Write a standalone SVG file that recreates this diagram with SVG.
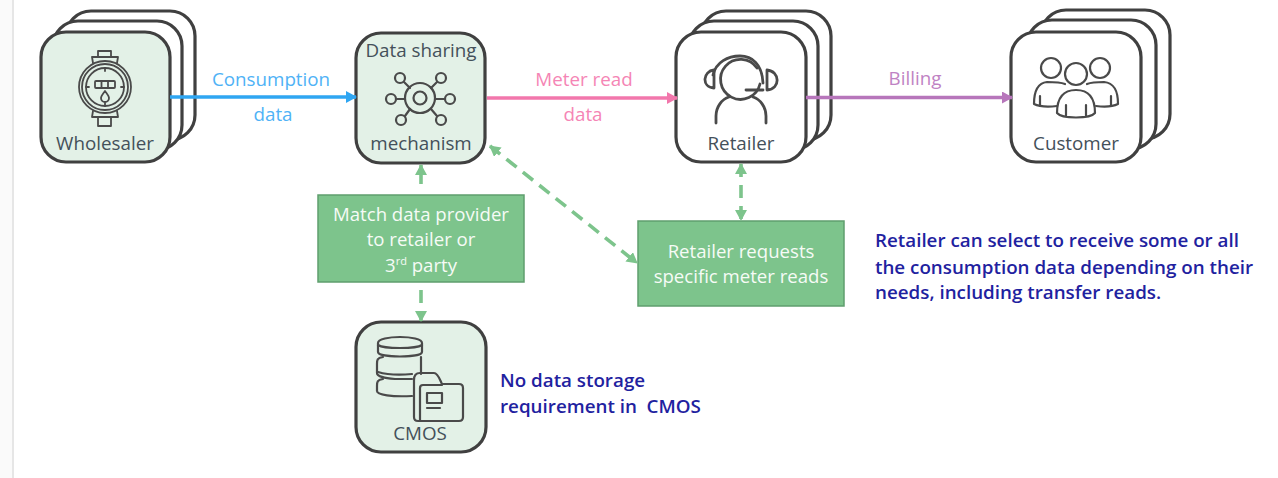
<svg xmlns="http://www.w3.org/2000/svg" width="1278" height="478" viewBox="0 0 1278 478">
<style>
text{font-family:"Open Sans","Noto Sans","Liberation Sans",sans-serif}
.card{stroke:#404040;stroke-width:3.2;fill:#fff}
.tint{fill:#e3f1e7}
.ic{fill:none;stroke:#4a4a4a;stroke-width:2.2;stroke-linecap:round;stroke-linejoin:round}
.lab{font-size:18.8px;fill:#44505a;text-anchor:middle}
.box{fill:#7dc48c;stroke:#5f9e6e;stroke-width:1.5}
.bt{font-size:18.6px;fill:#f6fbf6;text-anchor:middle}
.note{font-size:18.8px;font-weight:600;fill:#1f22a0}
.t{font-size:18.8px;text-anchor:middle}
.g{stroke:#7dc48c;stroke-width:3.6;fill:none}
.d{stroke-dasharray:13 8}
</style>
<defs>
<marker id="mb" markerUnits="userSpaceOnUse" markerWidth="12" markerHeight="12" refX="10" refY="6" orient="auto"><path d="M0 0L11 6L0 12z" fill="#2fa6f2"/></marker>
<marker id="mp" markerUnits="userSpaceOnUse" markerWidth="12" markerHeight="12" refX="10" refY="6" orient="auto"><path d="M0 0L11 6L0 12z" fill="#f277ac"/></marker>
<marker id="mv" markerUnits="userSpaceOnUse" markerWidth="12" markerHeight="12" refX="10" refY="6" orient="auto"><path d="M0 0L11 6L0 12z" fill="#b776bb"/></marker>
<marker id="mg" markerUnits="userSpaceOnUse" markerWidth="12" markerHeight="12" refX="10" refY="6" orient="auto-start-reverse"><path d="M0 0L11 6L0 12z" fill="#7dc48c"/></marker>
</defs>
<rect width="1278" height="478" fill="#fff"/>
<rect x="0" y="0" width="12" height="478" fill="#fafafa"/>
<rect x="12" y="0" width="2" height="478" fill="#e6e6e6"/>

<g id="wholesaler">
<rect class="card" x="66" y="11" width="129" height="129" rx="25"/>
<rect class="card" x="53" y="21" width="129" height="129" rx="25"/>
<rect class="card tint" x="41" y="32" width="129" height="130" rx="25"/>
<g class="ic" style="stroke-width:1.8">
<circle cx="105" cy="87" r="26"/><circle cx="105" cy="87" r="23"/><circle cx="105" cy="87" r="19"/>
<path d="M93 63L92 57H118L117 63M93 111L92 117H118L117 111M98 57V51H111V57M98 117V126H111V117"/>
<rect x="95" y="81" width="20" height="7" rx="1"/>
<path d="M101.500 81V88M108 81V88M105 68V71M105 103V106M86 87H89M121 87H124"/>
<path d="M105 91c-3 4-4 5-4 7a4 4 0 0 0 8 0c0-2-1-3-4-7z"/>
</g>
<text class="lab" x="105" y="150">Wholesaler</text>
</g>

<g id="data-sharing">
<rect class="card tint" x="356" y="33" width="129" height="130" rx="25"/>
<text class="lab" x="421" y="57">Data sharing</text>
<g class="ic">
<circle cx="420" cy="98" r="15"/><circle cx="420" cy="98" r="6.500"/>
<circle cx="400" cy="78" r="5"/><circle cx="441" cy="78" r="5"/><circle cx="391" cy="99" r="5"/><circle cx="450" cy="99" r="5"/><circle cx="401" cy="120" r="5"/><circle cx="441" cy="120" r="5"/>
<path d="M404 82L410 88M437 82L431 88M396 99H405M445 99H435M405 116L410 109M437 116L431 109"/>
</g>
<text class="lab" x="421" y="150">mechanism</text>
</g>

<g id="retailer">
<rect class="card" x="701" y="11" width="130" height="129" rx="25"/>
<rect class="card" x="689" y="21" width="129" height="129" rx="25"/>
<rect class="card" x="676" y="32" width="130" height="130" rx="25"/>
<g class="ic" style="stroke-width:2.800">
<path d="M760 84A20 20 0 1 1 757 68"/>
<path d="M713 75C716 62 728 56 740 56C752 56 762 64 763 83"/>
<path d="M763 90H746"/>
<path d="M714 70C703 71 701 87 714 88ZM767 70C780 71 781 89 767 90Z"/>
<path d="M716 123V116C716 107 722 99 729 97M766 123V116C766 107 760 99 753 97"/>
</g>
<text class="lab" x="741" y="150">Retailer</text>
</g>

<g id="customer">
<rect class="card" x="1041" y="10" width="129" height="129" rx="25"/>
<rect class="card" x="1027" y="20" width="129" height="129" rx="25"/>
<rect class="card" x="1011" y="32" width="130" height="130" rx="25"/>
<g class="ic">
<circle cx="1051" cy="68" r="10"/><circle cx="1100" cy="68" r="10"/><circle cx="1076" cy="74" r="11"/>
<path d="M1065 84C1060 82 1055 82 1047 82C1038 83 1034 90 1034 104C1040 107 1048 107 1057 106M1087 84C1092 82 1096 82 1104 82C1114 83 1118 90 1118 104C1112 107 1104 107 1096 106"/>
<path d="M1057 113C1057 97 1064 90 1076 90C1088 90 1095 97 1095 113C1090 119 1062 119 1057 113zM1066 105V116M1086 105V116M1040 96V106M1111 96V106"/>
</g>
<text class="lab" x="1076" y="150">Customer</text>
</g>

<g id="cmos">
<rect class="card tint" x="356" y="322" width="130" height="130" rx="25"/>
<g class="ic">
<path d="M378 343C378 335 422 335 422 343V352C422 358 378 358 378 352Z"/>
<path d="M378 345C384 349 416 349 422 345"/>
<path d="M383 357C377 358 377 360 377 364V373C377 377 385 378 395 379H412M421 357V374"/>
<path d="M383 379C377 380 377 382 377 386V391C377 395 392 397 412 396"/>
<path d="M378 372C388 375 402 375 412 374"/>
<path d="M414 417V380C414 375 416 373 420 373H434C438 373 440 380 442 384H459C462 384 463 386 463 388V417C463 420 462 421 459 421H418C415 421 414 420 414 417Z"/>
<path d="M420 420V388C420 386 421 385 423 385H442"/>
<rect x="427" y="393" width="15" height="10"/>
<path d="M427 408H440"/>
</g>
<text class="lab" x="420" y="440">CMOS</text>
</g>

<g id="match-box">
<rect class="box" x="318" y="195" width="206" height="87"/>
<text class="bt" x="421" y="221">Match data provider</text>
<text class="bt" x="421" y="246">to retailer or</text>
<text class="bt" x="421" y="272">3<tspan font-size="11" dy="-7">rd</tspan><tspan dy="7"> party</tspan></text>
</g>

<g id="request-box">
<rect class="box" x="638" y="221" width="206" height="85"/>
<text class="bt" x="741" y="258">Retailer requests</text>
<text class="bt" x="741" y="283">specific meter reads</text>
</g>

<g id="connectors">
<path d="M170 97H356" stroke="#2fa6f2" stroke-width="3.400" fill="none" marker-end="url(#mb)"/>
<path d="M487 98H677" stroke="#f277ac" stroke-width="3.400" fill="none" marker-end="url(#mp)"/>
<path d="M806 97.500H1012" stroke="#b776bb" stroke-width="3.400" fill="none" marker-end="url(#mv)"/>
<path class="g" d="M421 184V165" marker-end="url(#mg)"/>
<path class="g d" d="M421 290V321" marker-end="url(#mg)"/>
<path class="g d" d="M490 146L637 263" marker-start="url(#mg)" marker-end="url(#mg)"/>
<path class="g d" d="M741 164V220" marker-start="url(#mg)" marker-end="url(#mg)"/>
</g>

<g id="labels">
<text class="t" x="271" y="86" fill="#4fb2f6">Consumption</text>
<text class="t" x="273" y="121" fill="#4fb2f6">data</text>
<text class="t" x="584" y="86" fill="#f585b5">Meter read</text>
<text class="t" x="583" y="121" fill="#f585b5">data</text>
<text class="t" x="915" y="85" fill="#bf82c4">Billing</text>
<text class="note" x="875" y="247">Retailer can select to receive some or all</text>
<text class="note" x="875" y="274">the consumption data depending on their</text>
<text class="note" x="875" y="299">needs, including transfer reads.</text>
<text class="note" x="500" y="387">No data storage</text>
<text class="note" x="500" y="413" xml:space="preserve">requirement in  CMOS</text>
</g>
</svg>
